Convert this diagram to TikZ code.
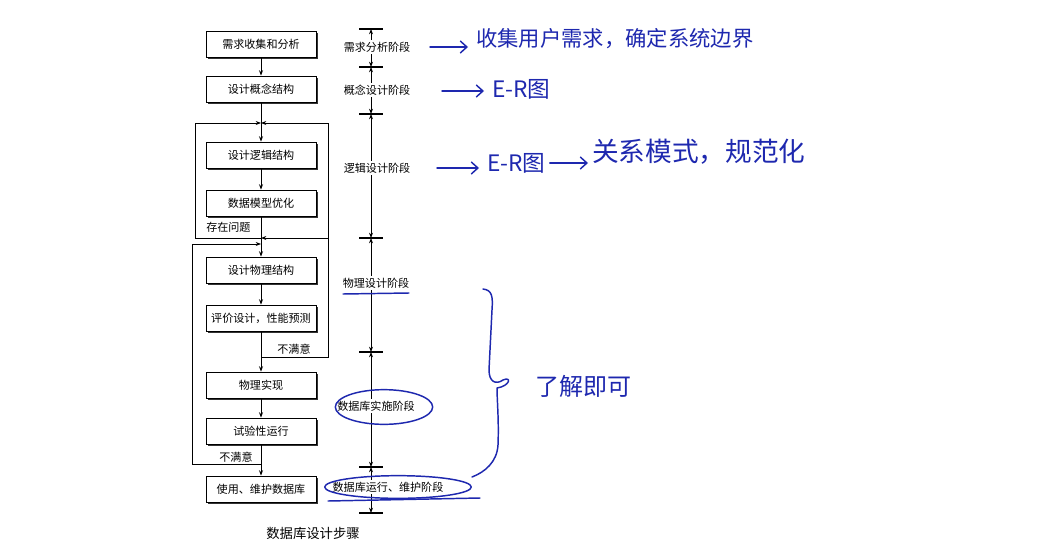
\documentclass[tikz,border=0pt]{standalone}
\usepackage{fontspec}
\setmainfont{Noto Sans CJK SC}
\usetikzlibrary{arrows.meta,calc}
\definecolor{ink}{RGB}{30,40,175}
\begin{document}
\begin{tikzpicture}[x=0.75pt,y=-0.75pt,
  font=\fontsize{8.3}{10}\selectfont,
  stepbox/.style={draw=black, line width=0.6pt, fill=white,
    minimum width=82.5pt, minimum height=19.5pt, inner sep=0pt,
    preaction={fill=black!80, transform canvas={xshift=1.6pt,yshift=-1.6pt}}},
  flow/.style={line width=0.6pt, -{Stealth[length=4pt,width=3pt]}},
  ln/.style={line width=0.6pt},
  stage/.style={inner sep=1.5pt},
  tickln/.style={line width=1pt},
  hand/.style={draw=ink, line width=1.1pt, line cap=round, line join=round},
  handarrow/.style={hand, -{Straight Barb[length=5pt,width=9pt]}},
  hw/.style={text=ink, inner sep=0pt},
]
\fill[white] (0,0) rectangle (1048,553);
\useasboundingbox (0,0) rectangle (1048,553);

% ---------- flow boxes ----------
\node[stepbox] (b1) at (261,44)  {需求收集和分析};
\node[stepbox] (b2) at (261,89)  {设计概念结构};
\node[stepbox] (b3) at (261,155) {设计逻辑结构};
\node[stepbox] (b4) at (261,203) {数据模型优化};
\node[stepbox] (b5) at (261,270) {设计物理结构};
\node[stepbox] (b6) at (261,318) {评价设计，性能预测};
\node[stepbox] (b7) at (261,385) {物理实现};
\node[stepbox] (b8) at (261,431) {试验性运行};
\node[stepbox] (b9) at (261,489) {使用、维护数据库};

% junctions
\coordinate (j1)  at (261,123);
\coordinate (j2)  at (261,238);
\coordinate (j2b) at (261,244);
\coordinate (j3)  at (261,357);
\coordinate (j4)  at (261,464);
\coordinate (l1a) at (195,238);
\coordinate (l1b) at (195,123);
\coordinate (r1)  at (328,357);
\coordinate (r2)  at (328,238);
\coordinate (r3)  at (328,123);
\coordinate (l3a) at (192,464);
\coordinate (l3b) at (192,244);

\draw[flow] (b1) -- (b2);
\draw[flow] (b2) -- (b3);
\draw[flow] (b3) -- (b4);
\draw[flow] (b4) -- (b5);
\draw[ln] (j2) -- (l1a) -- (l1b);
\draw[flow] (l1b) -- (j1);
\draw[flow] (b5) -- (b6);
\draw[flow] (b6) -- (b7);
\draw[ln] (j3) -- (r1) -- (r3);
\draw[flow] (r3) -- (j1);
\draw[flow] (r2) -- (j2);
\draw[flow] (b7) -- (b8);
\draw[flow] (b8) -- (b9);
\draw[ln] (j4) -- (l3a) -- (l3b);
\draw[flow] (l3b) -- (j2b);

\node[anchor=west, inner sep=0pt] (q1) at (206,227) {存在问题};
\node[inner sep=0pt] (q2) at (294,349) {不满意};
\node[inner sep=0pt] (q3) at (236,457) {不满意};

\node[font=\fontsize{10}{12}\selectfont] (cap) at (313,533) {数据库设计步骤};

% ---------- stage dimension line ----------
\foreach \n/\y in {t1/29,t2/67,t3/114,t4/238,t5/352,t6/467,t7/513}{
  \coordinate (\n) at (371,\y);
  \draw[tickln] ($(\n)+(-12,0)$) -- ($(\n)+(12,0)$);
}
\node[stage] (s1) at (377,47)  {需求分析阶段};
\node[stage] (s2) at (377,90)  {概念设计阶段};
\node[stage] (s3) at (377,168) {逻辑设计阶段};
\node[stage] (s4) at (376,283) {物理设计阶段};
\node[stage] (s5) at (376,406) {数据库实施阶段};
\node[stage] (s6) at (388,487) {数据库运行、维护阶段};

\draw[flow] (s1.north -| t1) -- (t1);
\draw[flow] (s1.south -| t1) -- (t2);
\draw[flow] (s2.north -| t1) -- (t2);
\draw[flow] (s2.south -| t1) -- (t3);
\draw[flow] (s3.north -| t1) -- (t3);
\draw[flow] (s3.south -| t1) -- (t4);
\draw[flow] (s4.north -| t1) -- (t4);
\draw[flow] (s4.south -| t1) -- (t5);
\draw[flow] (s5.north -| t1) -- (t5);
\draw[flow] (s5.south -| t1) -- (t6);
\draw[flow] (s6.north -| t1) -- (t6);
\draw[flow] (s6.south -| t1) -- (t7);

% ---------- handwritten annotations ----------
\node[hw, anchor=west, font=\fontsize{16}{18}\selectfont] (h1) at (476,39) {收集用户需求，确定系统边界};
\coordinate (a1) at (430,47);
\draw[handarrow] (a1) -- ([xshift=-6pt]h1.west |- a1);

\node[hw, anchor=west, font=\fontsize{17}{19}\selectfont] (h2) at (492,89) {E-R图};
\coordinate (a2) at (442,91);
\draw[handarrow] (a2) -- ([xshift=-6pt]h2.west |- a2);

\node[hw, anchor=west, font=\fontsize{17}{19}\selectfont] (h3) at (487,163) {E-R图};
\coordinate (a3) at (437,168);
\draw[handarrow] (a3) -- ([xshift=-6pt]h3.west |- a3);
\node[hw, anchor=west, font=\fontsize{20}{22}\selectfont] (h4) at (592,152) {关系模式，规范化};
\draw[handarrow] ([xshift=3pt]h3.east) -- ([xshift=-3pt]h4.west |- h3.east);

\node[hw, anchor=west, font=\fontsize{18}{20}\selectfont] (h5) at (535,386) {了解即可};

% underline, ellipses, brace
\draw[hand] (343,294) -- (409,293);
\draw[hand] (384,407) ellipse [x radius=36.5pt, y radius=13pt];
\draw[hand] (398,487) ellipse [x radius=55pt, y radius=8.5pt];
\draw[hand] (328,501) -- (480,498);
\draw[hand] (483,289) .. controls (492,290) and (493,296) .. (492,310)
  -- (489,370) .. controls (489,382) and (496,385) .. (503,380)
  .. controls (512,376) and (510,386) .. (497,388)
  .. controls (497,400) and (499,420) .. (498,445)
  .. controls (497,462) and (485,472) .. (472,477);
\end{tikzpicture}
\end{document}
